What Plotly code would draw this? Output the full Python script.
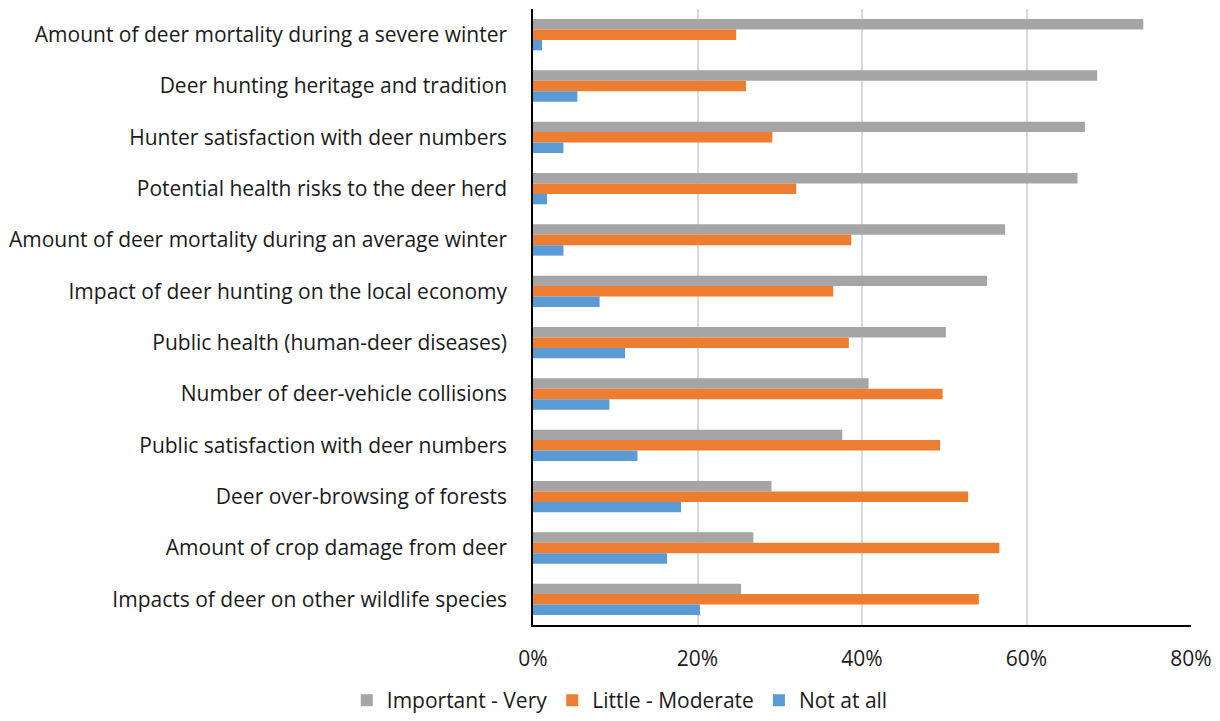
import plotly.graph_objects as go

categories = [
    "Amount of deer mortality during a severe winter",
    "Deer hunting heritage and tradition",
    "Hunter satisfaction with deer numbers",
    "Potential health risks to the deer herd",
    "Amount of deer mortality during an average winter",
    "Impact of deer hunting on the local economy",
    "Public health (human-deer diseases)",
    "Number of deer-vehicle collisions",
    "Public satisfaction with deer numbers",
    "Deer over-browsing of forests",
    "Amount of crop damage from deer",
    "Impacts of deer on other wildlife species",
]

important_very = [74.2, 68.6, 67.1, 66.2, 57.4, 55.2, 50.2, 40.8, 37.6, 29.0, 26.8, 25.3]
little_moderate = [24.7, 25.9, 29.1, 32.0, 38.7, 36.5, 38.4, 49.8, 49.5, 52.9, 56.7, 54.2]
not_at_all = [1.1, 5.4, 3.7, 1.7, 3.7, 8.1, 11.2, 9.3, 12.7, 18.0, 16.3, 20.3]

series = [
    ("Important - Very", important_very, "#a5a5a5"),
    ("Little - Moderate", little_moderate, "#ed7d31"),
    ("Not at all", not_at_all, "#5b9bd5"),
]

x_ticks = [0, 20, 40, 60, 80]
x_tick_labels = ["0%", "20%", "40%", "60%", "80%"]

FONT = "Open Sans, Lato, sans-serif"
TEXT = "#1a1a1a"

fig = go.Figure()
for name, vals, color in series:
    fig.add_trace(go.Bar(
        y=categories,
        x=vals,
        name=name,
        orientation="h",
        marker=dict(color=color, line=dict(width=0)),
    ))

fig.update_layout(
    width=1220,
    height=721,
    barmode="group",
    bargap=0.39,
    bargroupgap=0,
    plot_bgcolor="white",
    paper_bgcolor="white",
    margin=dict(l=533, r=29, t=9, b=96),
    font=dict(family=FONT, size=21, color=TEXT),
    legend=dict(
        orientation="h",
        xref="container",
        yref="container",
        x=0.508,
        xanchor="center",
        y=-0.005,
        yanchor="bottom",
        font=dict(family=FONT, size=21, color=TEXT),
        traceorder="normal",
    ),
    xaxis=dict(
        range=[0, 80],
        tickvals=x_ticks,
        ticktext=x_tick_labels,
        showgrid=True,
        gridcolor="#d9d9d9",
        gridwidth=1.5,
        zeroline=False,
        showline=True,
        linecolor="black",
        linewidth=1.5,
        ticks="",
        ticklabelstandoff=14,
        tickfont=dict(family=FONT, size=21, color=TEXT),
    ),
    yaxis=dict(
        autorange="reversed",
        showline=True,
        linecolor="black",
        linewidth=1.5,
        ticks="",
        ticklabelstandoff=20,
        tickfont=dict(family=FONT, size=21, color=TEXT),
    ),
)

fig.write_html("out.html")
